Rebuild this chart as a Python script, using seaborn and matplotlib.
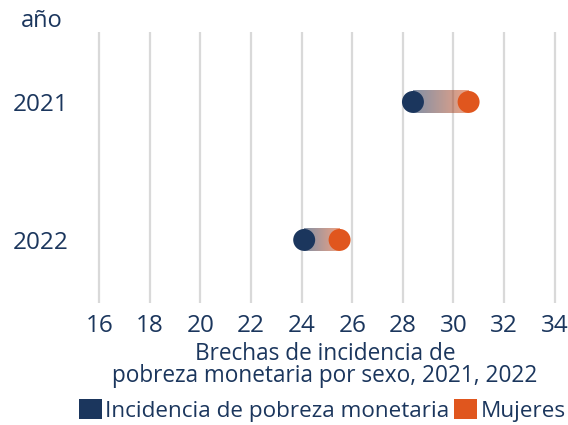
import numpy as np
import pandas as pd
import seaborn as sns
import matplotlib.pyplot as plt
from matplotlib.colors import LinearSegmentedColormap
from matplotlib.patches import Patch

sns.set_theme(style="white")
plt.rcParams["font.family"] = ["Open Sans", "DejaVu Sans"]

years = ["2021", "2022"]
total = [28.4, 24.1]
mujeres = [30.6, 25.5]
series = ["Incidencia de pobreza monetaria", "Mujeres"]
xticks = [16, 18, 20, 22, 24, 26, 28, 30, 32, 34]

navy = "#1b365d"
orange = "#e0561e"

df = pd.DataFrame({
    "year": years * 2,
    "pos": list(range(len(years))) * 2,
    "valor": total + mujeres,
    "serie": [series[0]] * len(years) + [series[1]] * len(years),
})

fig = plt.figure(figsize=(5.68, 4.25), dpi=100)
ax = fig.add_axes([0.1303, 0.2871, 0.8697, 0.6376])

# gradient bars between the two points
cmap = LinearSegmentedColormap.from_list("grad", [navy, orange])
grad = np.linspace(0, 1, 256).reshape(1, -1)
for i in range(len(years)):
    ax.imshow(grad, cmap=cmap, alpha=0.55, aspect="auto",
              extent=(total[i], mujeres[i], i + 0.08, i - 0.08), zorder=2)

sns.scatterplot(data=df, x="valor", y="pos", hue="serie",
                palette=[navy, orange], s=250, linewidth=0,
                legend=False, ax=ax, zorder=3)

ax.set_xlim(15, 34.53)
ax.set_ylim(1.457, -0.507)
ax.set_xticks(xticks)
ax.set_yticks(range(len(years)))
ax.set_yticklabels(years)
ax.grid(axis="x", color="#d9d9d9", linewidth=1.6, zorder=0)
ax.set_axisbelow(True)
ax.grid(axis="y", visible=False)
for s in ax.spines.values():
    s.set_visible(False)
ax.tick_params(axis="x", length=0, pad=8, labelsize=17.5, labelcolor=navy)
ax.tick_params(axis="y", length=0, pad=4, labelsize=17.5, labelcolor=navy)
ax.set_xlabel("")
ax.set_ylabel("")

fig.text(42 / 568, 1 - 21 / 425, "año", ha="center", va="center",
         fontsize=17, color=navy)
fig.text(0.572, 0.141, "Brechas de incidencia de\npobreza monetaria por sexo, 2021, 2022",
         ha="center", va="center", fontsize=16.3, color=navy, linespacing=0.9)

handles = [Patch(facecolor=navy, edgecolor="none"),
           Patch(facecolor=orange, edgecolor="none")]
leg = fig.legend(handles, series, loc="center", bbox_to_anchor=(0.567, 0.035),
                 ncol=2, frameon=False, fontsize=16.2, handlelength=1.03,
                 handleheight=1.03, handletextpad=0.15, columnspacing=0.2)
for t in leg.get_texts():
    t.set_color(navy)

fig.savefig("out.png", dpi=100)
